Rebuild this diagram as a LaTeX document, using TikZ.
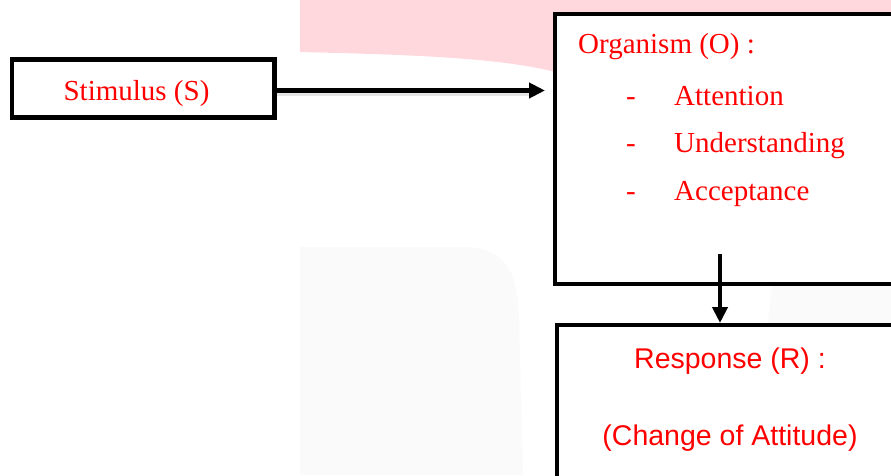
\documentclass[tikz,border=0pt]{standalone}
\usepackage{fontspec}
\setmainfont{Liberation Serif}
\newfontfamily\arialfont{Liberation Sans}
\usetikzlibrary{arrows.meta}
\definecolor{wmpink}{RGB}{255,216,221}
\definecolor{wmgray}{RGB}{250,250,250}
\definecolor{txtred}{RGB}{255,0,0}
\tikzset{
  boxshape/.style={draw=black, line width=4.5pt, fill=white, rectangle, inner sep=0pt, outer sep=0pt, anchor=north west},
  seriftext/.style={text=txtred, font=\fontsize{29}{34}\selectfont, inner sep=0pt},
  sanstext/.style={text=txtred, font=\arialfont\fontsize{28.5}{34}\selectfont, inner sep=0pt},
  flowarrow/.style={line width=4.5pt, -{Triangle[length=16pt,width=15pt]}},
  arrowshadow/.style={line width=5pt, draw=black!10},
}
\begin{document}
\begin{tikzpicture}[x=1pt,y=-1pt]
\useasboundingbox (0,0) rectangle (891,475);
\clip (0,0) rectangle (891,475);
% watermark shapes
\fill[wmpink] (300,0) -- (300,52) .. controls (420,55) and (520,58) .. (575,78) -- (891,78) -- (891,0) -- cycle;
\fill[wmgray] (300,475) -- (300,247) -- (462,247) .. controls (505,247) and (518,270) .. (519,320) -- (523,475) -- cycle;
\fill[wmgray] (772,284) -- (767,330) -- (767,475) -- (891,475) -- (891,284) -- cycle;
% boxes
\node[boxshape, minimum width=262.5pt, minimum height=58pt] (stim) at (12,59.5) {};
\node[boxshape, minimum width=345pt, minimum height=270pt] (org) at (555,14) {};
\node[boxshape, minimum width=345pt, minimum height=170pt] (resp) at (557,325) {};
% texts
\node[seriftext, anchor=base] (stimtext) at (136.5,100) {Stimulus (S)};
\node[seriftext, anchor=base west] (orgtitle) at (578,53) {Organism (O) :};
\node[seriftext, anchor=base west] (d1) at (626,105) {-};
\node[seriftext, anchor=base west] (i1) at (674,105) {Attention};
\node[seriftext, anchor=base west] (d2) at (626,152) {-};
\node[seriftext, anchor=base west] (i2) at (674,152) {Understanding};
\node[seriftext, anchor=base west] (d3) at (626,200) {-};
\node[seriftext, anchor=base west] (i3) at (674,200) {Acceptance};
\node[sanstext, anchor=base] (resptitle) at (730,368) {Response (R) :};
\node[sanstext, anchor=base] (respsub) at (730,445) {(Change of Attitude)};
% connectors
\coordinate (hend) at (545,90.5);
\coordinate (hstart) at (stim.east |- hend);
\coordinate (vstart) at (720,254);
\draw[arrowshadow] ([yshift=-3pt,xshift=2pt]hstart) -- ([yshift=-3pt,xshift=-14pt]hend);
\draw[flowarrow] (hstart) -- (hend);
\draw[flowarrow] (vstart) -- ([yshift=2pt]vstart |- resp.north);
\end{tikzpicture}
\end{document}
